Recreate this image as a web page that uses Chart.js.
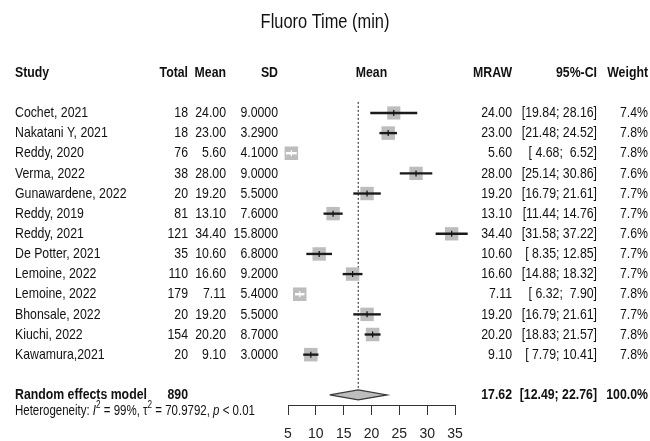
<!DOCTYPE html>
<html><head><meta charset="utf-8">
<script src="https://cdn.jsdelivr.net/npm/chart.js@4/dist/chart.umd.min.js"></script>
<style>html,body{margin:0;padding:0;background:#fff;}canvas{display:block;}</style>
</head><body>
<canvas id="c" width="650" height="441"></canvas>
<script>
// ---------- data ----------
const chartTitle = "Fluoro Time (min)";
const studies = ["Cochet, 2021","Nakatani Y, 2021","Reddy, 2020","Verma, 2022","Gunawardene, 2022","Reddy, 2019","Reddy, 2021","De Potter, 2021","Lemoine, 2022","Lemoine, 2022","Bhonsale, 2022","Kiuchi, 2022","Kawamura,2021"];
const totals = [18,18,76,38,20,81,121,35,110,179,20,154,20];
const means = [24.00,23.00,5.60,28.00,19.20,13.10,34.40,10.60,16.60,7.11,19.20,20.20,9.10];
const sds = [9.0,3.29,4.1,9.0,5.5,7.6,15.8,6.8,9.2,5.4,5.5,8.7,3.0];
const ciLower = [19.84,21.48,4.68,25.14,16.79,11.44,31.58,8.35,14.88,6.32,16.79,18.83,7.79];
const ciUpper = [28.16,24.52,6.52,30.86,21.61,14.76,37.22,12.85,18.32,7.90,21.61,21.57,10.41];
const weights = [7.4,7.8,7.8,7.6,7.7,7.7,7.6,7.7,7.7,7.8,7.7,7.8,7.8];
const pooledLabel = "Random effects model";
const pooledTotal = 890;
const pooledMean = 17.62;
const pooledLower = 12.49;
const pooledUpper = 22.76;
const pooledWeight = 100.0;
const hetI2 = "99%";
const hetTau2 = "70.9792";
const hetP = "< 0.01";
const headers = ["Study","Total","Mean","SD","Mean","MRAW","95%-CI","Weight"];
const xMin = 5, xMax = 35, xStep = 5;

// ---------- styling ----------
const FONT = '"Liberation Sans", Arial, sans-serif';
const SX = 0.82; // condensed (Arial Narrow look)

const rowIdx = studies.map((_, i) => i);
const pooledRow = studies.length + 1;
const headerRow = -2;
const hetRow = pooledRow + 0.8;

const squareSide = w => 13.5 * Math.sqrt(w / 7.8);
const fmt2 = v => v.toFixed(2);
const pad5 = s => (" ".repeat(5) + s).slice(-5);
const ciStr = (lo, hi) => "[" + pad5(fmt2(lo)) + "; " + pad5(fmt2(hi)) + "]";

function ciInside(chart, i) {
  const xs = chart.scales.x;
  const w = xs.getPixelForValue(ciUpper[i]) - xs.getPixelForValue(ciLower[i]);
  return w < squareSide(weights[i]);
}

function setFont(ctx, size, weight, style) {
  ctx.font = (style || 'normal') + ' ' + (weight || 'normal') + ' ' + size + 'px ' + FONT;
}
function txt(ctx, s, x, y, align, size, weight, style) {
  ctx.save();
  setFont(ctx, size, weight, style);
  ctx.textAlign = align; ctx.textBaseline = 'middle'; ctx.fillStyle = '#111';
  ctx.translate(x, y); ctx.scale(SX, 1); ctx.fillText(s, 0, 0);
  ctx.restore();
}
function measure(ctx, s, size, weight, style) {
  ctx.save();
  setFont(ctx, size, weight, style);
  const w = ctx.measureText(s).width * SX;
  ctx.restore();
  return w;
}

const col = {study:15, total:188, mean:226, sd:278, mraw:512, ci:597, weight:648};

const textPlugin = {
  id: 'forestText',
  afterDraw(chart) {
    const ctx = chart.ctx;
    const ys = chart.scales.y;
    const Y = v => ys.getPixelForValue(v);
    const ca = chart.chartArea;
    txt(ctx, chartTitle, 325, 22, 'center', 20);
    const hy = Y(headerRow);
    txt(ctx, headers[0], col.study, hy, 'left', 15, 'bold');
    txt(ctx, headers[1], col.total, hy, 'right', 15, 'bold');
    txt(ctx, headers[2], col.mean, hy, 'right', 15, 'bold');
    txt(ctx, headers[3], col.sd, hy, 'right', 15, 'bold');
    txt(ctx, headers[4], (ca.left + ca.right) / 2, hy, 'center', 15, 'bold');
    txt(ctx, headers[5], col.mraw, hy, 'right', 15, 'bold');
    txt(ctx, headers[6], col.ci, hy, 'right', 15, 'bold');
    txt(ctx, headers[7], col.weight, hy, 'right', 15, 'bold');
    rowIdx.forEach(i => {
      const y = Y(i);
      txt(ctx, studies[i], col.study, y, 'left', 15);
      txt(ctx, String(totals[i]), col.total, y, 'right', 15);
      txt(ctx, fmt2(means[i]), col.mean, y, 'right', 15);
      txt(ctx, sds[i].toFixed(4), col.sd, y, 'right', 15);
      txt(ctx, fmt2(means[i]), col.mraw, y, 'right', 15);
      txt(ctx, ciStr(ciLower[i], ciUpper[i]), col.ci, y, 'right', 15);
      txt(ctx, weights[i].toFixed(1) + '%', col.weight, y, 'right', 15);
    });
    const py = Y(pooledRow);
    txt(ctx, pooledLabel, col.study, py, 'left', 15, 'bold');
    txt(ctx, String(pooledTotal), col.total, py, 'right', 15, 'bold');
    txt(ctx, fmt2(pooledMean), col.mraw, py, 'right', 15, 'bold');
    txt(ctx, ciStr(pooledLower, pooledUpper), col.ci, py, 'right', 15, 'bold');
    txt(ctx, pooledWeight.toFixed(1) + '%', col.weight, py, 'right', 15, 'bold');
    const hty = Y(hetRow);
    const pieces = [
      ["Heterogeneity: ", 'n'], ["I", 'i'], ["2", 's'], [" = " + hetI2 + ", \u03C4", 'n'], ["2", 's'],
      [" = " + hetTau2 + ", ", 'n'], ["p", 'i'], [" " + hetP, 'n']
    ];
    let x = col.study;
    pieces.forEach(([s, k]) => {
      const size = k === 's' ? 10 : 14;
      const style = k === 'i' ? 'italic' : 'normal';
      const yy = k === 's' ? hty - 6 : hty;
      txt(ctx, s, x, yy, 'left', size, 'normal', style);
      x += measure(ctx, s, size, 'normal', style);
    });
  }
};

const d = (i) => ({x: means[i], y: i});
new Chart(document.getElementById('c'), {
  type: 'scatter',
  data: {
    datasets: [
      {
        label: 'Random effects model',
        showLine: true,
        data: [
          {x: pooledLower, y: pooledRow}, {x: pooledMean, y: pooledRow - 0.25},
          {x: pooledUpper, y: pooledRow}, {x: pooledMean, y: pooledRow + 0.25},
          {x: pooledLower, y: pooledRow}
        ],
        fill: 'shape', backgroundColor: '#bdbdbd', borderColor: '#3a3a3a', borderWidth: 1.3,
        pointRadius: 0, tension: 0, clip: false, order: 0
      },
      {
        label: 'Mean marker',
        data: rowIdx.map(d),
        pointStyle: 'line', rotation: 90, pointRadius: 3,
        borderColor: c => ciInside(c.chart, c.dataIndex) ? '#ffffff' : '#111111',
        borderWidth: 1.2, clip: false, order: 1
      },
      {
        type: 'bar', indexAxis: 'y',
        label: '95%-CI',
        data: rowIdx.map(i => ({x: [ciLower[i], ciUpper[i]], y: i})),
        barThickness: 1.7, borderWidth: 0, borderSkipped: false,
        backgroundColor: c => ciInside(c.chart, c.dataIndex) ? '#ffffff' : '#1a1a1a',
        clip: false, order: 2
      },
      {
        label: 'Weight',
        data: rowIdx.map(d),
        pointStyle: 'rect',
        pointRadius: weights.map(w => squareSide(w) / Math.SQRT2),
        backgroundColor: '#bdbdbd', borderWidth: 0, clip: false, order: 3
      },
      {
        label: 'Pooled estimate line',
        showLine: true,
        data: [{x: pooledMean, y: -0.55}, {x: pooledMean, y: pooledRow - 0.25}],
        borderColor: '#444', borderWidth: 1.2, borderDash: [2, 2], pointRadius: 0, order: 5
      }
    ]
  },
  options: {
    responsive: false, devicePixelRatio: 1, animation: false,
    layout: {padding: {left: 288, right: 195, top: 12.25, bottom: 0}},
    plugins: {legend: {display: false}, tooltip: {enabled: false}, title: {display: false}},
    scales: {
      x: {
        type: 'linear', position: 'bottom', min: xMin, max: xMax, offset: false,
        ticks: {stepSize: xStep, font: {family: FONT, size: 14}, color: '#222', padding: 11, autoSkip: false, maxRotation: 0},
        grid: {display: true, offset: false, drawOnChartArea: false, drawTicks: true, tickLength: 10, color: '#333', lineWidth: 1},
        border: {display: true, color: '#333', width: 1},
        afterFit: s => { s.height = 36; }
      },
      y: {type: 'linear', display: false, offset: false, grid: {offset: false}, min: -5, max: 14.5, reverse: true}
    }
  },
  plugins: [textPlugin]
});
</script>
</body></html>
